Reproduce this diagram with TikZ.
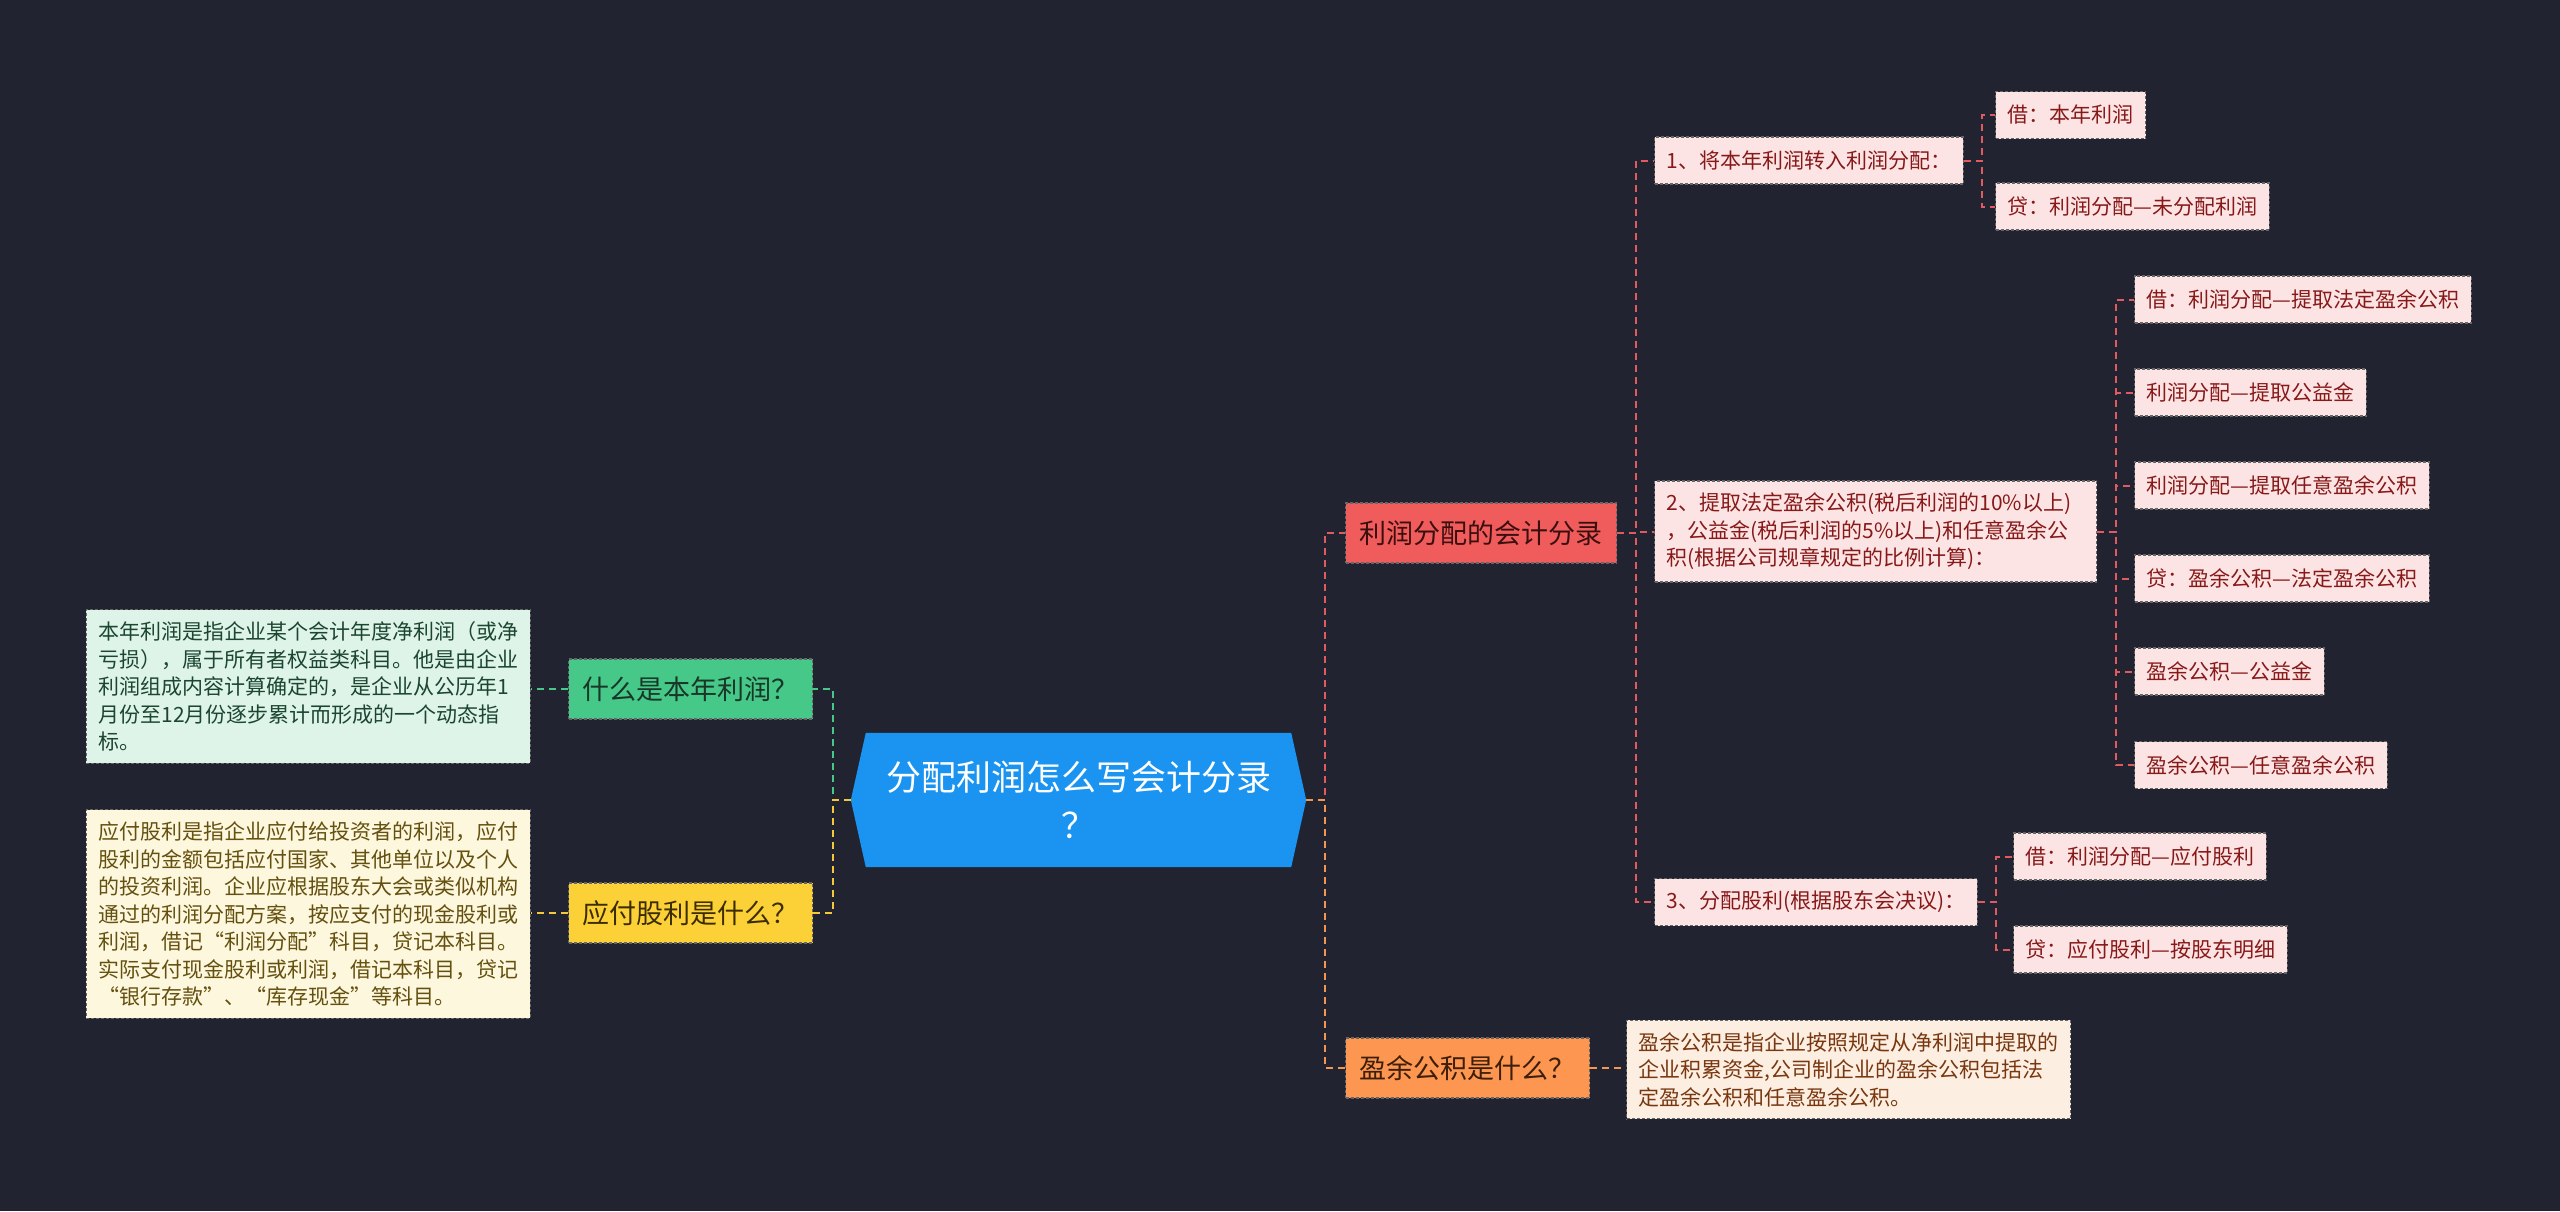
\documentclass[tikz,border=0pt]{standalone}
\usepackage{fontspec}
\setmainfont{Noto Sans CJK SC}
\usetikzlibrary{backgrounds,calc}
\definecolor{bgc}{RGB}{33,36,48}
\definecolor{rootblue}{RGB}{26,148,240}
\definecolor{gnode}{RGB}{70,200,136}
\definecolor{ynode}{RGB}{252,208,55}
\definecolor{rnode}{RGB}{240,92,92}
\definecolor{onode}{RGB}{252,150,80}
\definecolor{gfill}{RGB}{222,244,232}
\definecolor{yfill}{RGB}{253,247,222}
\definecolor{pfill}{RGB}{253,228,228}
\definecolor{ofill}{RGB}{253,238,226}
\definecolor{gtext}{RGB}{28,70,48}
\definecolor{ytext}{RGB}{100,80,15}
\definecolor{ptext}{RGB}{135,25,25}
\definecolor{otext}{RGB}{120,55,15}
\definecolor{gntext}{RGB}{25,55,40}
\definecolor{yntext}{RGB}{60,45,0}
\definecolor{rntext}{RGB}{60,15,15}
\definecolor{ontext}{RGB}{60,30,10}
\definecolor{gline}{RGB}{70,200,136}
\definecolor{yline}{RGB}{245,200,60}
\definecolor{rline}{RGB}{225,90,95}
\definecolor{oline}{RGB}{245,150,80}
\begin{document}
\begin{tikzpicture}[x=1pt,y=-1pt,
  conn/.style={line width=2pt, dash pattern=on 7pt off 5pt},
  rl/.style={conn, draw=rline},
  ol/.style={conn, draw=oline},
  gl/.style={conn, draw=gline},
  yl/.style={conn, draw=yline},
  boxbase/.style={draw=black!60, dash pattern=on 3pt off 2pt, line width=1.2pt},
  rootn/.style={text=white, align=center, font=\fontsize{35}{48}\selectfont, minimum width=455pt, minimum height=134pt, inner sep=0pt},
  mainn/.style={boxbase, anchor=west, font=\fontsize{27}{32}\selectfont, minimum height=60pt, inner xsep=14pt, inner ysep=0pt},
  leaf/.style={boxbase, anchor=west, align=left, fill=pfill, text=ptext, font=\fontsize{21}{27.5}\selectfont, minimum height=47pt, inner xsep=12pt, inner ysep=12pt},
  tbox/.style={leaf, anchor=east}
]
\begin{scope}[on background layer]
\fill[bgc] (0,0) rectangle (2560,1211);
\end{scope}
\useasboundingbox (0,0) rectangle (2560,1211);

% root
\node[rootn] (root) at (1078.5,800) {分配利润怎么写会计分录\\？};
\begin{scope}[on background layer]
\fill[rootblue] ([xshift=15pt]root.north west) -- ([xshift=-15pt]root.north east) -- (root.east)
  -- ([xshift=-15pt]root.south east) -- ([xshift=15pt]root.south west) -- (root.west) -- cycle;
\end{scope}

% main branches
\node[mainn, fill=gnode, text=gntext] (g1) at (568,689) {什么是本年利润？};
\node[mainn, fill=ynode, text=yntext] (y1) at (568,913) {应付股利是什么？};
\node[mainn, fill=rnode, text=rntext] (r1) at (1345,533) {利润分配的会计分录};
\node[mainn, fill=onode, text=ontext] (o1) at (1345,1068) {盈余公积是什么？};

% left text boxes
\node[tbox, fill=gfill, text=gtext] (gt) at (531,686.5) {本年利润是指企业某个会计年度净利润（或净\\亏损），属于所有者权益类科目。他是由企业\\利润组成内容计算确定的，是企业从公历年1\\月份至12月份逐步累计而形成的一个动态指\\标。};
\node[tbox, fill=yfill, text=ytext] (yt) at (531,914) {应付股利是指企业应付给投资者的利润，应付\\股利的金额包括应付国家、其他单位以及个人\\的投资利润。企业应根据股东大会或类似机构\\通过的利润分配方案，按应支付的现金股利或\\利润，借记“利润分配”科目，贷记本科目。\\实际支付现金股利或利润，借记本科目，贷记\\“银行存款”、“库存现金”等科目。};

% orange text
\node[leaf, fill=ofill, text=otext] (ot) at (1626,1069.5) {盈余公积是指企业按照规定从净利润中提取的\\企业积累资金,公司制企业的盈余公积包括法\\定盈余公积和任意盈余公积。};

% red branch
\node[leaf] (s1) at (1654,160.5) {1、将本年利润转入利润分配：};
\node[leaf] (s1a) at (1995,115) {借：本年利润};
\node[leaf] (s1b) at (1995,206.5) {贷：利润分配—未分配利润};
\node[leaf, text width=418pt] (s2) at (1654,531.5) {2、提取法定盈余公积(税后利润的10\%以上)\\，公益金(税后利润的5\%以上)和任意盈余公\\积(根据公司规章规定的比例计算)：};
\node[leaf] (s2a) at (2134,299.5) {借：利润分配—提取法定盈余公积};
\node[leaf] (s2b) at (2134,392.5) {利润分配—提取公益金};
\node[leaf] (s2c) at (2134,485.5) {利润分配—提取任意盈余公积};
\node[leaf] (s2d) at (2134,578.5) {贷：盈余公积—法定盈余公积};
\node[leaf] (s2e) at (2134,671.5) {盈余公积—公益金};
\node[leaf] (s2f) at (2134,765) {盈余公积—任意盈余公积};
\node[leaf] (s3) at (1654,902) {3、分配股利(根据股东会决议)：};
\node[leaf] (s3a) at (2013,856.5) {借：利润分配—应付股利};
\node[leaf] (s3b) at (2013,949.5) {贷：应付股利—按股东明细};

% connectors
\draw[rl] (root.east) -- ++(19,0) |- (r1.west);
\draw[ol] (root.east) -- ++(19,0) |- (o1.west);
\draw[gl] (root.west) -- ++(-18,0) |- (g1.east);
\draw[yl] (root.west) -- ++(-18,0) |- (y1.east);
\draw[gl] (g1.west) -- (g1.west -| gt.east);
\draw[yl] (y1.west) -- (y1.west -| yt.east);
\draw[ol] (o1.east) -- (o1.east -| ot.west);
\foreach \t in {s1,s2,s3} \draw[rl] (r1.east) -- ++(19,0) |- (\t.west);
\foreach \t in {s1a,s1b} \draw[rl] (s1.east) -- ++(18,0) |- (\t.west);
\foreach \t in {s2a,s2b,s2c,s2d,s2e,s2f} \draw[rl] (s2.east) -- ++(19,0) |- (\t.west);
\foreach \t in {s3a,s3b} \draw[rl] (s3.east) -- ++(18,0) |- (\t.west);
\end{tikzpicture}
\end{document}
